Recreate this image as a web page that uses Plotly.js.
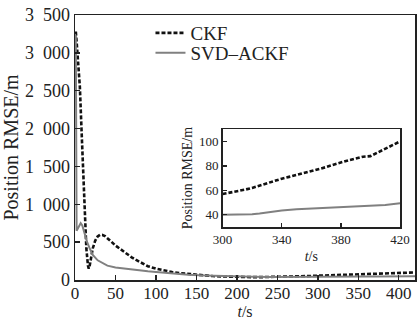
<!DOCTYPE html>
<html>
<head>
<meta charset="utf-8">
<script src="https://cdn.plot.ly/plotly-3.0.1.min.js"></script>
<style>
html,body{margin:0;padding:0;background:#fff;}
#chart{width:418px;height:321px;}
</style>
</head>
<body>
<div id="chart"></div>
<script>
// CKF position RMSE
const ckfT = [0,1,2,4,6,8,10,12,14,16,17,18,20,22,25,28,31,34,37,40,45,50,55,60,65,70,75,80,85,90,100,110,120,130,140,150,160,170,180,190,200,210,220,230,240,250,260,270,280,290,300,310,320,330,340,350,360,370,380,390,400,410,420];
const ckfV = [3200,3280,3150,2900,2550,2000,1400,850,420,190,150,180,300,420,520,575,597,595,580,555,505,455,415,375,335,300,268,238,208,182,150,125,105,90,78,68,60,52,47,43,40,39,38,38,39,40,42,44,47,52,57,60,64,67,70,73,76,80,83,86,88,94,100];
// SVD-ACKF position RMSE
const svdT = [0,1,2,4,7,9,12,15,18,22,28,35,40,50,60,70,80,90,100,120,140,160,180,200,220,240,260,280,300,310,320,330,340,350,360,370,380,390,400,410,420];
const svdV = [3250,3200,650,690,750,720,600,500,420,330,260,220,190,165,150,140,130,115,105,85,70,60,52,46,43,41,40,40,40,40,40.5,42,43.5,44.5,45,45.5,46,47,47.5,48,49.5];
// Inset window data (t from 300 s to 420 s)
const insetCkfT = [300,305,310,315,320,325,330,335,340,345,350,355,360,365,370,375,380,385,390,395,400,405,410,415,420];
const insetCkfV = [57,58,59,60.5,62,64,66,68,69.5,71,72.5,74,75.5,77.5,79,81,83,84.5,86,87.5,88,91,94,96.5,100];
const insetSvdT = [300,310,320,325,330,340,350,360,370,380,390,400,410,420];
const insetSvdV = [40,40,40.5,41,42,43.5,44.5,45,45.5,46,47,47.5,48,49.5];

const xTicks = [0,50,100,150,200,250,300,350,400];
const yTicks = [0,500,1000,1500,2000,2500,3000,3500];
const yTickText = ['0','500','1\u2002000','1\u2002500','2\u2002000','2\u2002500','3\u2002000','3\u2002500'];
const insetXTicks = [300,340,380,420];
const insetYTicks = [40,60,80,100];

const serif = 'Liberation Serif, Times New Roman, serif';
const ckfLine = {color:'#111111', width:2.6, dash:'4px,2px'};
const svdLine = {color:'#808080', width:2};

const data = [
  {x:ckfT, y:ckfV, type:'scatter', mode:'lines', name:'CKF', line:ckfLine, legend:'legend', xaxis:'x', yaxis:'y'},
  {x:svdT, y:svdV, type:'scatter', mode:'lines', name:'SVD–ACKF', line:svdLine, legend:'legend2', xaxis:'x', yaxis:'y'},
  {x:insetCkfT, y:insetCkfV, type:'scatter', mode:'lines', line:ckfLine, showlegend:false, xaxis:'x2', yaxis:'y2'},
  {x:insetSvdT, y:insetSvdV, type:'scatter', mode:'lines', line:svdLine, showlegend:false, xaxis:'x2', yaxis:'y2'}
];

const axBase = {showline:true, linecolor:'#222', linewidth:1.5, mirror:true, ticks:'inside', ticklen:5, tickcolor:'#222', tickwidth:1.3, showgrid:false, zeroline:false};

const layout = {
  width:418, height:321,
  margin:{l:75, r:3, t:15, b:41},
  paper_bgcolor:'#fff', plot_bgcolor:'#fff',
  font:{family:serif, color:'#222', size:18},
  showlegend:true,
  xaxis: Object.assign({}, axBase, {domain:[0,1], range:[0,420], tickvals:xTicks, tickfont:{size:17}, anchor:'y', ticklabelstandoff:-3,
    title:{text:'<i>t</i>/s', font:{size:16}, standoff:0}}),
  yaxis: Object.assign({}, axBase, {domain:[0,1], range:[0,3500], tickvals:yTicks, ticktext:yTickText, tickfont:{size:18}, anchor:'x',
    title:{text:'Position RMSE/m', font:{size:20}, standoff:2}}),
  xaxis2: Object.assign({}, axBase, {domain:[0.434,0.956], range:[300,420], tickvals:insetXTicks, tickfont:{size:13}, anchor:'y2', ticklen:4,
    title:{text:'<i>t</i>/s', font:{size:14}, standoff:5}}),
  yaxis2: Object.assign({}, axBase, {domain:[0.2,0.569], range:[30,110], tickvals:insetYTicks, tickfont:{size:13}, anchor:'x2', ticklen:4,
    title:{text:'Position RMSE/m', font:{size:14}, standoff:3}}),
  legend:{x:0.222, y:0.932, xanchor:'left', yanchor:'middle', bgcolor:'rgba(0,0,0,0)', borderwidth:0, font:{size:19}, itemwidth:30},
  legend2:{x:0.222, y:0.857, xanchor:'left', yanchor:'middle', bgcolor:'rgba(0,0,0,0)', borderwidth:0, font:{size:19}, itemwidth:30}
};

Plotly.newPlot('chart', data, layout, {displayModeBar:false, staticPlot:true});
</script>
</body>
</html>
